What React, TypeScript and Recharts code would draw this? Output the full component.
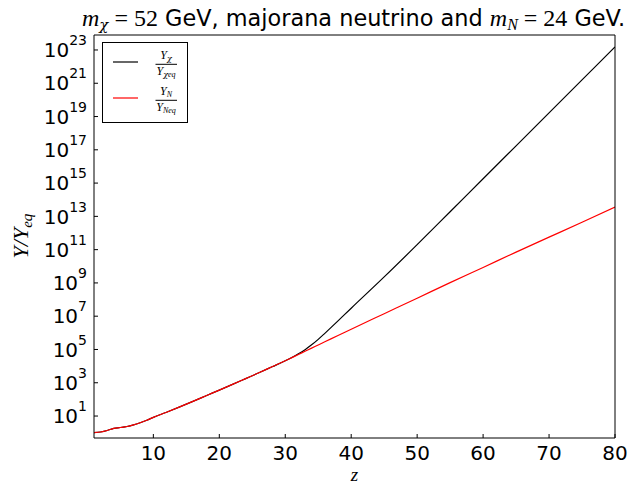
import React from 'react';
import { LineChart, Line, XAxis, YAxis, Legend, Label } from 'recharts';

// z grid and log10(Y/Yeq)
const zValues = [1, 2, 3, 4, 5, 6, 7, 8, 9, 10, 12, 14, 16, 18, 20, 22, 24, 26, 28, 30, 31, 32, 33, 34, 35, 36, 37, 38, 40, 45, 50, 55, 60, 65, 70, 75, 80];
const chiLog = [0.0, 0.04, 0.13, 0.26, 0.31, 0.37, 0.47, 0.6, 0.75, 0.92, 1.23, 1.55, 1.88, 2.22, 2.56, 2.9, 3.25, 3.6, 3.96, 4.32, 4.52, 4.74, 4.99, 5.28, 5.61, 5.97, 6.34, 6.72, 7.48, 9.36, 11.3, 13.28, 15.26, 17.24, 19.22, 21.2, 23.18];
const nLog = [0.0, 0.04, 0.13, 0.26, 0.31, 0.37, 0.47, 0.6, 0.75, 0.92, 1.23, 1.55, 1.88, 2.22, 2.56, 2.9, 3.25, 3.6, 3.96, 4.32, 4.51, 4.7, 4.89, 5.08, 5.27, 5.46, 5.65, 5.84, 6.22, 7.15, 8.08, 9.02, 9.93, 10.85, 11.75, 12.65, 13.56];

const xTicks = [10, 20, 30, 40, 50, 60, 70, 80];
const yTickExps = [1, 3, 5, 7, 9, 11, 13, 15, 17, 19, 21, 23];
const yDomain = [Math.pow(10, -0.32), Math.pow(10, 23.9)];

const data = zValues.map((z, i) => ({
  z,
  chi: Math.pow(10, chiLog[i]),
  n: Math.pow(10, nLog[i]),
}));
const yTicks = yTickExps.map((e) => Math.pow(10, e));

const SANS = 'DejaVu Sans';
const SERIF = 'Liberation Serif';
const GREEK = 'DejaVu Serif';
const legendSub: Record<string, string> = { chi: 'χ', n: 'N' };

const XTick = ({ x, y, payload }: any) => (
  <text x={x} y={y} dy={14.5} textAnchor="middle" fontFamily={SANS} fontSize={20} fill="#000">
    {payload.value}
  </text>
);

const YTick = ({ x, y, payload }: any) => {
  const e = Math.round(Math.log10(payload.value));
  return (
    <text x={x} y={y} textAnchor="end" fontFamily={SANS} fill="#000">
      <tspan fontSize={20} dy={7.2}>10</tspan>
      <tspan fontSize={14} dy={-12}>{e}</tspan>
    </text>
  );
};

const TitleLabel = () => (
  <text x={82} y={26} textAnchor="start" fill="#000" fontSize={22.4} fontFamily={SANS}>
    <tspan fontFamily={SERIF} fontStyle="italic" fontSize={24}>m</tspan>
    <tspan fontFamily={GREEK} fontStyle="italic" fontSize={15} dy={4}>χ</tspan>
    <tspan fontFamily={SERIF} fontSize={24} dy={-4}> = 52</tspan>
    <tspan> GeV, majorana neutrino and </tspan>
    <tspan fontFamily={SERIF} fontStyle="italic" fontSize={24}>m</tspan>
    <tspan fontFamily={SERIF} fontStyle="italic" fontSize={16} dy={4}>N</tspan>
    <tspan fontFamily={SERIF} fontSize={24} dy={-4}> = 24</tspan>
    <tspan> GeV.</tspan>
  </text>
);

const XLabel = () => (
  <text x={354.5} y={481} textAnchor="middle" fontFamily={SERIF} fontStyle="italic" fontSize={19} fill="#000">
    z
  </text>
);

const YLabel = () => (
  <text x={0} y={0} transform="translate(28,236) rotate(-90)" textAnchor="middle" fontFamily={SERIF} fontStyle="italic" fontSize={22} fill="#000">
    Y/Y<tspan fontSize={15} dy={4}>eq</tspan>
  </text>
);

const LegendBox = ({ payload }: any) => (
  <svg width={87} height={82} style={{ display: 'block' }}>
    <rect x={0.5} y={0.5} width={85} height={80} fill="#fff" stroke="#000" strokeWidth={1} />
    {(payload || []).map((entry: any, i: number) => {
      const cy = 20 + i * 36;
      const sub = legendSub[entry.dataKey] || '';
      const subFont = sub === 'χ' ? GREEK : SERIF;
      return (
        <g key={String(entry.dataKey)}>
          <line x1={11} x2={36} y1={cy} y2={cy} stroke={entry.color} strokeWidth={1.2} />
          <text x={64} y={cy - 3} textAnchor="middle" fontFamily={SERIF} fontStyle="italic" fontSize={12} fill="#000">
            Y<tspan fontFamily={subFont} fontSize={8} dy={2}>{sub}</tspan>
          </text>
          <line x1={53.5} x2={75} y1={cy + 2.3} y2={cy + 2.3} stroke="#000" strokeWidth={1} />
          <text x={64} y={cy + 12.5} textAnchor="middle" fontFamily={SERIF} fontStyle="italic" fontSize={12} fill="#000">
            Y<tspan fontFamily={subFont} fontSize={8} dy={2}>{sub}</tspan>
            <tspan fontSize={8}>eq</tspan>
          </text>
        </g>
      );
    })}
  </svg>
);

export default function App() {
  return (
    <div style={{ position: 'absolute', left: 0, top: 0, width: 644, height: 486, background: '#fff' }}>
      <LineChart width={644} height={486} data={data} margin={{ top: 34, right: 28, bottom: 0, left: 0 }}>
        <XAxis
          dataKey="z"
          type="number"
          domain={[1, 80]}
          allowDataOverflow
          ticks={xTicks}
          height={48}
          tick={<XTick />}
          tickSize={-4}
          tickMargin={11}
          stroke="#000"
        >
          <Label content={<XLabel />} />
          <Label content={<TitleLabel />} />
        </XAxis>
        <XAxis
          xAxisId="top"
          orientation="top"
          dataKey="z"
          type="number"
          domain={[1, 80]}
          allowDataOverflow
          ticks={xTicks}
          height={1}
          tick={false}
          tickSize={-4}
          stroke="#000"
        />
        <YAxis
          scale="log"
          type="number"
          domain={yDomain}
          allowDataOverflow
          ticks={yTicks}
          width={94}
          tick={<YTick />}
          tickSize={-4}
          tickMargin={11}
          stroke="#000"
        >
          <Label content={<YLabel />} />
        </YAxis>
        <YAxis
          yAxisId="right"
          orientation="right"
          scale="log"
          type="number"
          domain={yDomain}
          allowDataOverflow
          ticks={yTicks}
          width={1}
          tick={false}
          tickSize={-4}
          stroke="#000"
        />
        <Legend
          layout="vertical"
          align="center"
          verticalAlign="middle"
          content={<LegendBox />}
          wrapperStyle={{ left: 102, top: 42, width: 87, height: 82 }}
        />
        <Line dataKey="chi" name="chi" type="monotone" stroke="#000" strokeWidth={1.2} dot={false} isAnimationActive={false} />
        <Line
          dataKey="n"
          name="n"
          xAxisId="top"
          yAxisId="right"
          type="monotone"
          stroke="#ff0000"
          strokeWidth={1.2}
          dot={false}
          isAnimationActive={false}
        />
      </LineChart>
    </div>
  );
}
